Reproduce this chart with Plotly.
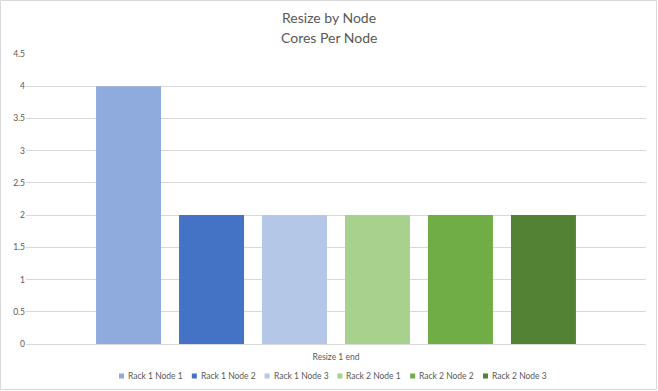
import plotly.graph_objects as go

categories = ["Resize 1 end"]
series_names = ["Rack 1 Node 1", "Rack 1 Node 2", "Rack 1 Node 3",
                "Rack 2 Node 1", "Rack 2 Node 2", "Rack 2 Node 3"]
series_values = [[4], [2], [2], [2], [2], [2]]
colors = ["#8FAADC", "#4472C4", "#B4C7E7", "#A9D18E", "#70AD47", "#548235"]
y_ticks = [0, 0.5, 1, 1.5, 2, 2.5, 3, 3.5, 4, 4.5]
title_lines = ["Resize by Node", "Cores Per Node"]

W, H = 658, 391
ml, mr, mt, mb = 26, 12, 54, 47
pw, ph = W - ml - mr, H - mt - mb

def px_x(x):
    return (x - ml) / pw

def px_y(y):
    return (H - mb - y) / ph

fig = go.Figure()
for name, vals, c in zip(series_names, series_values, colors):
    fig.add_trace(go.Bar(x=categories, y=vals, name=name, marker_color=c,
                         marker_line_width=0, showlegend=False))

font = "Lato, Open Sans, sans-serif"
grey = "#595959"
fig.update_layout(
    width=W, height=H,
    margin=dict(l=ml, r=mr, t=mt, b=mb, autoexpand=False),
    paper_bgcolor="white", plot_bgcolor="white",
    barmode="group", bargap=0.197, bargroupgap=0.217,
    font=dict(family=font, color=grey, size=9),
    showlegend=False,
)
fig.update_yaxes(range=[0, 4.5], tickvals=y_ticks, ticktext=[f"{v:g}" for v in y_ticks],
                 showgrid=True, gridcolor="#D9D9D9", gridwidth=1, zeroline=False,
                 showline=False, ticks="", automargin=False,
                 tickfont=dict(size=8.5, color=grey))
fig.update_xaxes(showline=True, linecolor="#D9D9D9", linewidth=1, ticks="",
                 automargin=False, ticklabelstandoff=5,
                 tickfont=dict(size=8.5, color=grey))

# titles
for i, t in enumerate(title_lines):
    fig.add_annotation(text=t, xref="paper", yref="paper", x=px_x(329), y=px_y(17 + 20 * i),
                       xanchor="center", yanchor="middle", showarrow=False,
                       font=dict(size=14, color=grey, family=font))

# legend
for i, (name, c) in enumerate(zip(series_names, colors)):
    sx = 119 + 72.8 * i
    fig.add_shape(type="rect", xref="paper", yref="paper",
                  x0=px_x(sx), x1=px_x(sx + 5), y0=px_y(378.5), y1=px_y(373.5),
                  line=dict(width=0), fillcolor=c)
    fig.add_annotation(text=name, xref="paper", yref="paper", x=px_x(sx + 7), y=px_y(376),
                       xanchor="left", yanchor="middle", showarrow=False,
                       font=dict(size=8.5, color=grey, family=font))

# chart border
fig.add_shape(type="rect", xref="paper", yref="paper",
              x0=px_x(0.5), x1=px_x(W - 1.5),
              y0=px_y(H - 1.5), y1=px_y(0.5),
              line=dict(color="#D9D9D9", width=1), fillcolor="rgba(0,0,0,0)", layer="below")
fig.write_html("out.html", config={"displayModeBar": False})

# remove the default page margin so the figure sits at the window's corner
with open("out.html", encoding="utf-8") as f:
    html = f.read()
html = html.replace("<head>", "<head><style>html,body{margin:0;padding:0;overflow:hidden}</style>", 1)
with open("out.html", "w", encoding="utf-8") as f:
    f.write(html)
